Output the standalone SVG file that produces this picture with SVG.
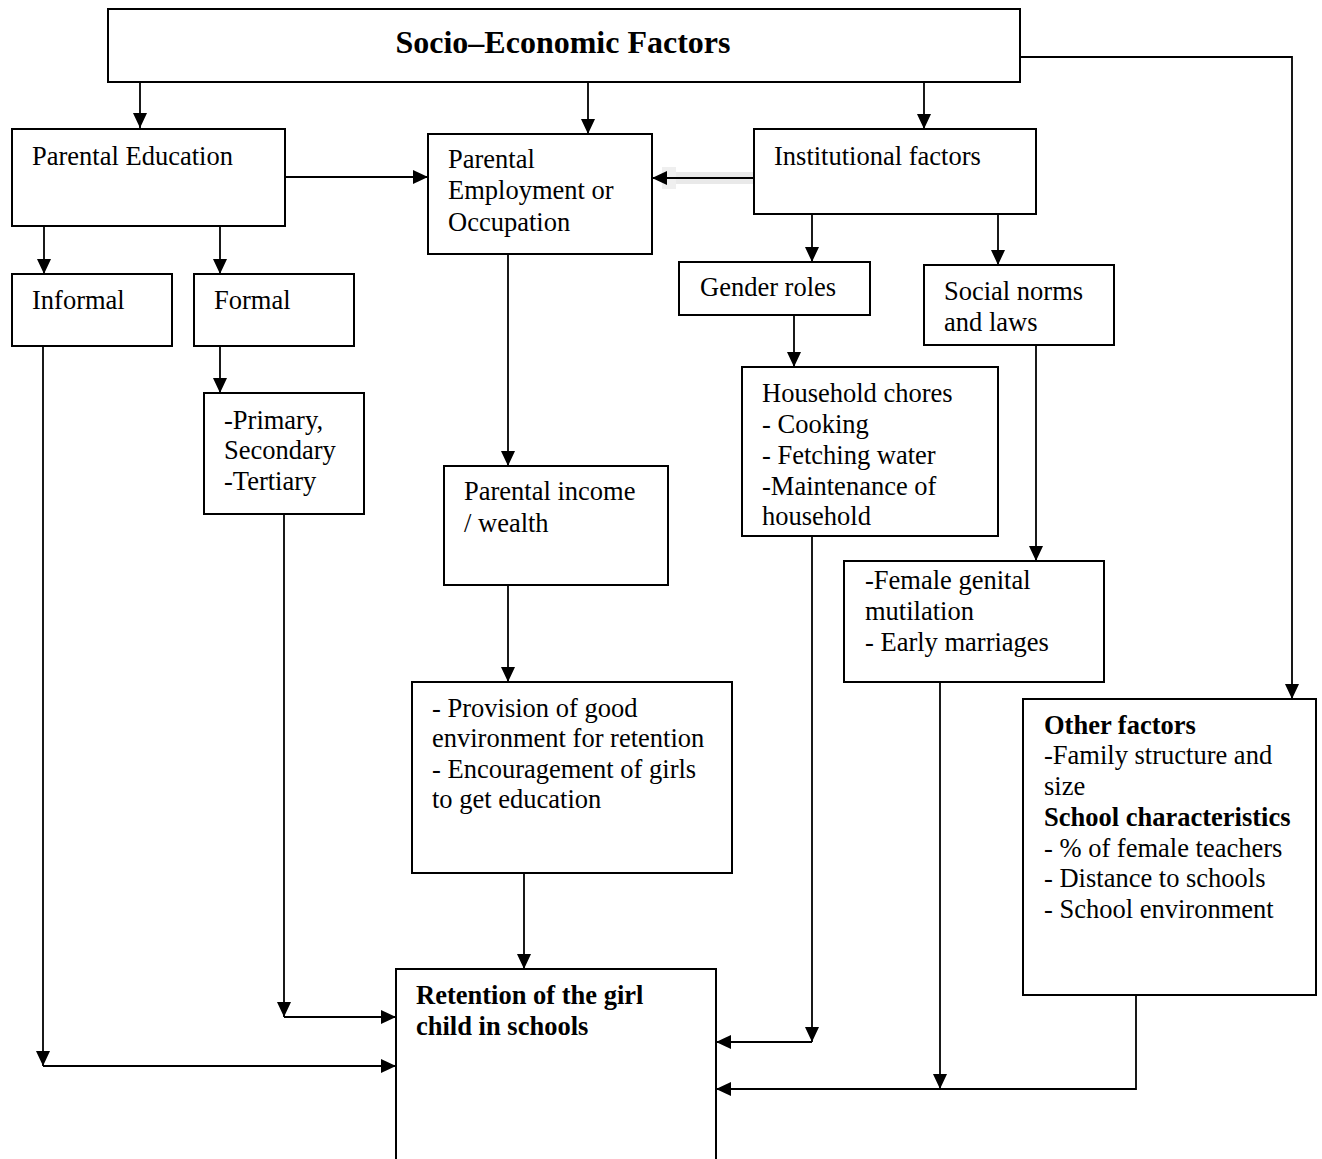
<svg xmlns="http://www.w3.org/2000/svg" width="1322" height="1159" viewBox="0 0 1322 1159">
<style>
.box{fill:#fff;stroke:#000;stroke-width:2}
.t{font-family:"Liberation Serif","Times New Roman",serif;font-size:26.5px;fill:#000}
.b{font-weight:bold}
.c{fill:none;stroke:#000;stroke-width:1.8}
</style>
<defs>
<marker id="ah" markerUnits="userSpaceOnUse" markerWidth="16" markerHeight="14" refX="15" refY="7" orient="auto" viewBox="0 0 16 14">
<path d="M0,0 L15,7 L0,14 Z" fill="#000"/>
</marker>
</defs>
<rect width="1322" height="1159" fill="#fff"/>
<g id="connectors">
<rect x="668" y="172" width="86" height="12" fill="#e9e9e9"/>
<rect x="662" y="167" width="14" height="22" fill="#efefef"/>
<path class="c" d="M140,82 V128" marker-end="url(#ah)"/>
<path class="c" d="M588,82 V134" marker-end="url(#ah)"/>
<path class="c" d="M924,82 V129" marker-end="url(#ah)"/>
<path class="c" d="M1020,57 H1292 V699" marker-end="url(#ah)"/>
<path class="c" d="M285,177 H428" marker-end="url(#ah)"/>
<path class="c" d="M754,178 H652" marker-end="url(#ah)"/>
<path class="c" d="M44,226 V274" marker-end="url(#ah)"/>
<path class="c" d="M220,226 V274" marker-end="url(#ah)"/>
<path class="c" d="M812,214 V262" marker-end="url(#ah)"/>
<path class="c" d="M998,214 V265" marker-end="url(#ah)"/>
<path class="c" d="M220,346 V393" marker-end="url(#ah)"/>
<path class="c" d="M794,315 V367" marker-end="url(#ah)"/>
<path class="c" d="M508,254 V466" marker-end="url(#ah)"/>
<path class="c" d="M1036,345 V561" marker-end="url(#ah)"/>
<path class="c" d="M508,585 V682" marker-end="url(#ah)"/>
<path class="c" d="M524,873 V969" marker-end="url(#ah)"/>
<path class="c" d="M43,346 V1066" marker-end="url(#ah)"/>
<path class="c" d="M43,1066 H396" marker-end="url(#ah)"/>
<path class="c" d="M284,514 V1017" marker-end="url(#ah)"/>
<path class="c" d="M284,1017 H396" marker-end="url(#ah)"/>
<path class="c" d="M812,536 V1042" marker-end="url(#ah)"/>
<path class="c" d="M812,1042 H716" marker-end="url(#ah)"/>
<path class="c" d="M940,682 V1089" marker-end="url(#ah)"/>
<path class="c" d="M1136,995 V1089 H716" marker-end="url(#ah)"/>
</g>
<g id="socio-economic">
<rect class="box" x="108" y="9" width="912" height="73"/>
<text class="t b" x="563" y="53" text-anchor="middle" style="font-size:32px">Socio–Economic Factors</text>
</g>
<g id="parental-education">
<rect class="box" x="12" y="129" width="273" height="97"/>
<text class="t" x="32" y="165">Parental Education</text>
</g>
<g id="parental-employment">
<rect class="box" x="428" y="134" width="224" height="120"/>
<text class="t" x="448" y="168">Parental</text>
<text class="t" x="448" y="199">Employment or</text>
<text class="t" x="448" y="231">Occupation</text>
</g>
<g id="institutional">
<rect class="box" x="754" y="129" width="282" height="85"/>
<text class="t" x="774" y="165">Institutional factors</text>
</g>
<g id="informal">
<rect class="box" x="12" y="274" width="160" height="72"/>
<text class="t" x="32" y="309">Informal</text>
</g>
<g id="formal">
<rect class="box" x="194" y="274" width="160" height="72"/>
<text class="t" x="214" y="309">Formal</text>
</g>
<g id="gender-roles">
<rect class="box" x="679" y="262" width="191" height="53"/>
<text class="t" x="700" y="296">Gender roles</text>
</g>
<g id="social-norms">
<rect class="box" x="924" y="265" width="190" height="80"/>
<text class="t" x="944" y="300">Social norms</text>
<text class="t" x="944" y="331">and laws</text>
</g>
<g id="levels">
<rect class="box" x="204" y="393" width="160" height="121"/>
<text class="t" x="224" y="429">-Primary,</text>
<text class="t" x="224" y="459">Secondary</text>
<text class="t" x="224" y="490">-Tertiary</text>
</g>
<g id="household-chores">
<rect class="box" x="742" y="367" width="256" height="169"/>
<text class="t" x="762" y="402">Household chores</text>
<text class="t" x="762" y="433">- Cooking</text>
<text class="t" x="762" y="464">- Fetching water</text>
<text class="t" x="762" y="495">-Maintenance of</text>
<text class="t" x="762" y="525">household</text>
</g>
<g id="parental-income">
<rect class="box" x="444" y="466" width="224" height="119"/>
<text class="t" x="464" y="500">Parental income</text>
<text class="t" x="464" y="532">/ wealth</text>
</g>
<g id="fgm">
<rect class="box" x="844" y="561" width="260" height="121"/>
<text class="t" x="865" y="589">-Female genital</text>
<text class="t" x="865" y="620">mutilation</text>
<text class="t" x="865" y="651">- Early marriages</text>
</g>
<g id="provision">
<rect class="box" x="412" y="682" width="320" height="191"/>
<text class="t" x="432" y="717">- Provision of good</text>
<text class="t" x="432" y="747">environment for retention</text>
<text class="t" x="432" y="778">- Encouragement of girls</text>
<text class="t" x="432" y="808">to get education</text>
</g>
<g id="other-factors">
<rect class="box" x="1023" y="699" width="293" height="296"/>
<text class="t b" x="1044" y="734">Other factors</text>
<text class="t" x="1044" y="764">-Family structure and</text>
<text class="t" x="1044" y="795">size</text>
<text class="t b" x="1044" y="826">School characteristics</text>
<text class="t" x="1044" y="857">- % of female teachers</text>
<text class="t" x="1044" y="887">- Distance to schools</text>
<text class="t" x="1044" y="918">- School environment</text>
</g>
<g id="retention">
<rect class="box" x="396" y="969" width="320" height="200"/>
<text class="t b" x="416" y="1004">Retention of the girl</text>
<text class="t b" x="416" y="1035">child in schools</text>
</g>
</svg>
